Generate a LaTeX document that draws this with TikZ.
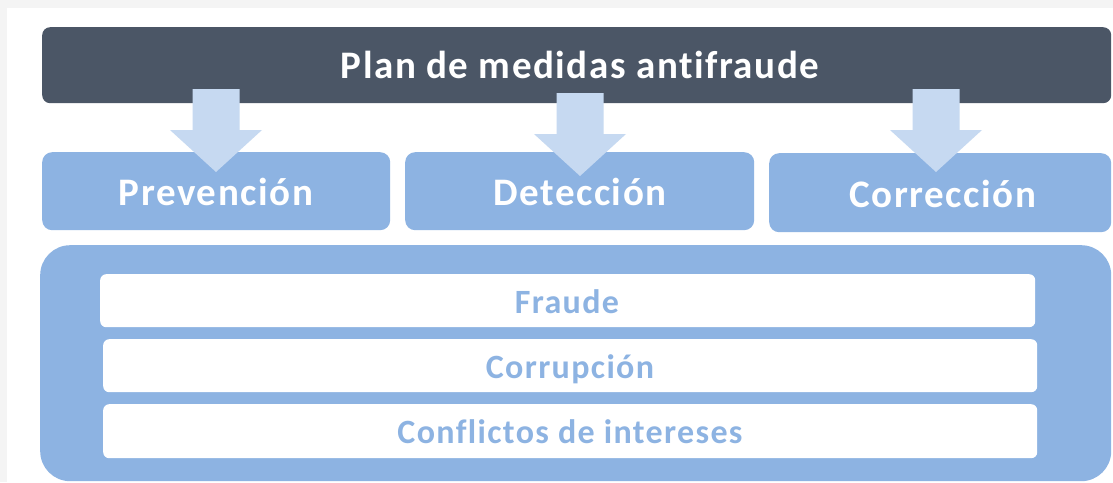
\documentclass[tikz,border=0pt]{standalone}
\usepackage{fontspec}
\setmainfont{Carlito}[Ligatures=NoCommon, LetterSpace=4]
\definecolor{bardark}{HTML}{4B5666}
\definecolor{boxblue}{HTML}{8DB3E2}
\definecolor{arrowblue}{HTML}{C6D9F1}
\definecolor{pagegray}{HTML}{F4F4F4}
\tikzset{
  titlebar/.style={fill=bardark, rounded corners=8pt, inner sep=0pt, anchor=north west},
  catbox/.style={fill=boxblue, rounded corners=10pt, inner sep=0pt, anchor=north west},
  outerbox/.style={fill=boxblue, rounded corners=30pt, inner sep=0pt, anchor=north west},
  itembox/.style={fill=white, rounded corners=6pt, inner sep=0pt, anchor=north west},
  titletext/.style={text=white, font=\bfseries\fontsize{39}{44}\selectfont, anchor=base, inner sep=0pt},
  cattext/.style={text=white, font=\bfseries\fontsize{39}{44}\selectfont, anchor=base, inner sep=0pt},
  itemtext/.style={text=boxblue, font=\bfseries\fontsize{34}{40}\selectfont, anchor=base, inner sep=0pt},
  blockarrow/.style={fill=arrowblue}
}
\begin{document}
\begin{tikzpicture}[x=1pt,y=-1pt]
\fill[pagegray] (0,0) rectangle (1113,482);
\fill[white] (7,8) rectangle (1113,482);
\useasboundingbox (0,0) rectangle (1113,482);
% title bar
\node[titlebar, minimum width=1069pt, minimum height=76pt] (plan) at (42,27) {};
\node[titletext] (plantxt) at (580,78) {Plan de medidas antifraude};
% category boxes
\node[catbox, minimum width=348pt, minimum height=78pt] (prev) at (42,152) {};
\node[catbox, minimum width=349pt, minimum height=78pt] (det) at (405,152) {};
\node[catbox, minimum width=342pt, minimum height=79pt] (corr) at (769,153) {};
\node[cattext] (prevtxt) at (216,205) {Prevención};
\node[cattext] (dettxt) at (580,205) {Detección};
\node[cattext] (corrtxt) at (943,207) {Corrección};
% block arrows
\foreach \cx/\ty in {216/89, 580/93, 936/89}{
  \fill[blockarrow] (\cx-23.5,\ty) -- (\cx+23.5,\ty) -- (\cx+23.5,\ty+41) -- (\cx+46,\ty+41)
     -- (\cx,\ty+83) -- (\cx-46,\ty+41) -- (\cx-23.5,\ty+41) -- cycle;
}
% outer box
\node[outerbox, minimum width=1071pt, minimum height=236pt] (outer) at (40,245) {};
\node[itembox, minimum width=935pt, minimum height=53pt] (fraude) at (100,274) {};
\node[itembox, minimum width=934pt, minimum height=53pt] (corrup) at (103,339) {};
\node[itembox, minimum width=934pt, minimum height=54pt] (confl) at (103,404) {};
\node[itemtext] (fraudetxt) at (567,313) {Fraude};
\node[itemtext] (corruptxt) at (570,378) {Corrupción};
\node[itemtext] (confltxt) at (570,443) {Conflictos de intereses};
\end{tikzpicture}
\end{document}
